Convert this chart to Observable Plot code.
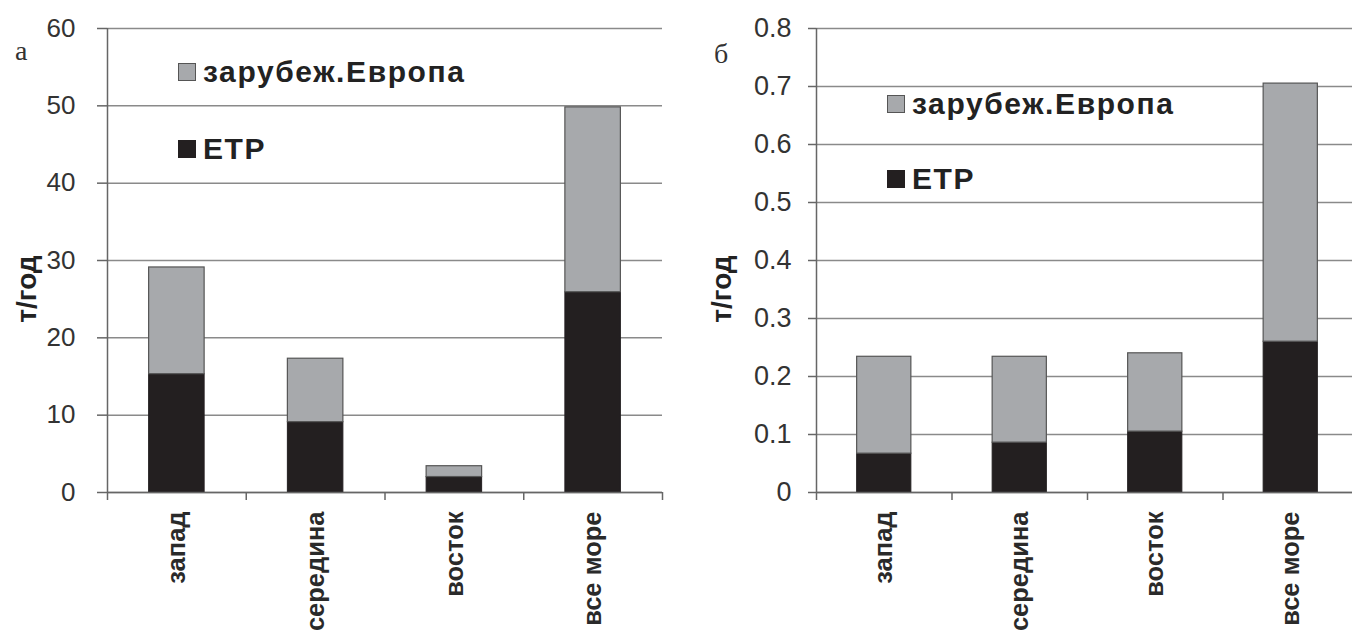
<!DOCTYPE html>
<html><head><meta charset="utf-8">
<script src="https://cdn.jsdelivr.net/npm/d3@7"></script>
<script src="https://cdn.jsdelivr.net/npm/@observablehq/plot@0.6"></script>
<style>
html,body{margin:0;padding:0;background:#fff;overflow:hidden;width:1352px;height:634px}
#wrap{position:relative;width:1352px;height:634px;overflow:hidden;font-family:"Liberation Sans",Arial,sans-serif}
.panel{position:absolute;top:0}
.legtxt{position:absolute;font-weight:bold;font-size:30px;line-height:30px;letter-spacing:1.6px;color:#222;white-space:nowrap}
.sw{position:absolute;width:18px;height:18px;box-sizing:border-box}
.letter{position:absolute;font-family:"Liberation Serif","Times New Roman",serif;font-size:28px;line-height:28px;color:#333}
.ylab{position:absolute;font-weight:bold;font-size:28px;line-height:28px;color:#222;white-space:nowrap;transform:translate(-50%,-50%) rotate(-90deg)}
</style></head><body><div id="wrap"></div>
<script>
const categories = ["запад", "середина", "восток", "все море"];
const seriesNames = ["ЕТР", "зарубеж.Европа"];
// panel а
const etpA = [15.3, 9.1, 2.0, 25.9];
const europeA = [13.8, 8.2, 1.4, 23.9];
const yTicksA = [0, 10, 20, 30, 40, 50, 60];
// panel б
const etpB = [0.067, 0.086, 0.105, 0.26];
const europeB = [0.167, 0.148, 0.135, 0.445];
const yTicksB = [0, 0.1, 0.2, 0.3, 0.4, 0.5, 0.6, 0.7, 0.8];

const colors = {etp: "#231f20", europe: "#a7a9ac"};

function makePanel(o) {
  const rowsEtp = categories.map((c, i) => ({cat: c, i, y1: 0, y2: o.etp[i]}));
  const rowsEu = categories.map((c, i) => ({cat: c, i, y1: o.etp[i], y2: o.etp[i] + o.europe[i]}));
  const ticks = d3.range(categories.length + 1);
  const mids = categories.map((c, i) => ({x: i + 0.5, label: c}));
  return Plot.plot({
    width: o.width, height: 634,
    marginTop: 28, marginBottom: 142, marginLeft: o.marginLeft, marginRight: o.marginRight,
    x: {type: "linear", domain: [0, categories.length], axis: null, label: null},
    y: {domain: [0, o.yMax], axis: null, label: null},
    style: {fontFamily: "'Liberation Sans', Arial, sans-serif", background: "transparent", overflow: "visible"},
    marks: [
      Plot.gridY(o.yTicks, {stroke: "#8a8a8a", strokeOpacity: 1, strokeWidth: 1.5}),
      Plot.axisY(o.yTicks, {tickSize: o.tickSize, tickPadding: o.tickPadding, fontSize: o.fontSize, tickFormat: o.fmt, stroke: "#666", fill: "#333", strokeWidth: 1.5, label: null}),
      Plot.rectY(rowsEtp, {x1: d => d.i + 0.3, x2: d => d.i + 0.7, y1: "y1", y2: "y2", fill: colors.etp, stroke: colors.etp, strokeWidth: 1}),
      Plot.rectY(rowsEu, {x1: d => d.i + 0.3, x2: d => d.i + 0.7, y1: "y1", y2: "y2", fill: colors.europe, stroke: "#555", strokeWidth: 1.2}),
      Plot.ruleY([0], {stroke: "#666", strokeWidth: 1.5}),
      Plot.ruleX([0], {stroke: "#666", strokeWidth: 1.5}),
      Plot.axisX(ticks, {tickSize: 8, tickFormat: () => "", stroke: "#666", strokeWidth: 1.5, label: null}),
      Plot.text(mids, {x: "x", text: "label", frameAnchor: "bottom", rotate: -90, textAnchor: "end", lineAnchor: "middle", dy: 19, fontSize: 25.5, fontWeight: "bold", fill: "#2a2a2a"})
    ]
  });
}

const wrap = document.getElementById("wrap");

const pA = makePanel({etp: etpA, europe: europeA, yTicks: yTicksA, yMax: 60, width: 676, marginLeft: 107, marginRight: 14, tickSize: 10, tickPadding: 22, fontSize: 26, fmt: d => String(d)});
pA.classList.add("panel"); pA.style.left = "0px";
wrap.appendChild(pA);

const pB = makePanel({etp: etpB, europe: europeB, yTicks: yTicksB, yMax: 0.8, width: 682, marginLeft: 140, marginRight: 0, tickSize: 8, tickPadding: 17, fontSize: 27, fmt: d => d === 0 ? "0" : d3.format(".1f")(d)});
pB.classList.add("panel"); pB.style.left = "676px";
wrap.appendChild(pB);

function addEl(cls, text, left, top, extra) {
  const e = document.createElement("div");
  e.className = cls;
  if (text) e.textContent = text;
  e.style.left = left + "px"; e.style.top = top + "px";
  if (extra) Object.assign(e.style, extra);
  wrap.appendChild(e);
  return e;
}

// legends
function legend(x, yTop, gap) {
  addEl("sw", "", x, yTop, {background: colors.europe, border: "1.5px solid #555"});
  addEl("legtxt", seriesNames[1], x + 25, yTop - 6);
  addEl("sw", "", x, yTop + gap, {background: colors.etp});
  addEl("legtxt", seriesNames[0], x + 25, yTop + gap - 6);
}
legend(178, 63, 77);
legend(887, 95, 75);

// panel letters
addEl("letter", "а", 15, 37);
addEl("letter", "б", 714, 40);

// y-axis titles
addEl("ylab", "т/год", 27, 289);
addEl("ylab", "т/год", 722, 289);
</script></body></html>
